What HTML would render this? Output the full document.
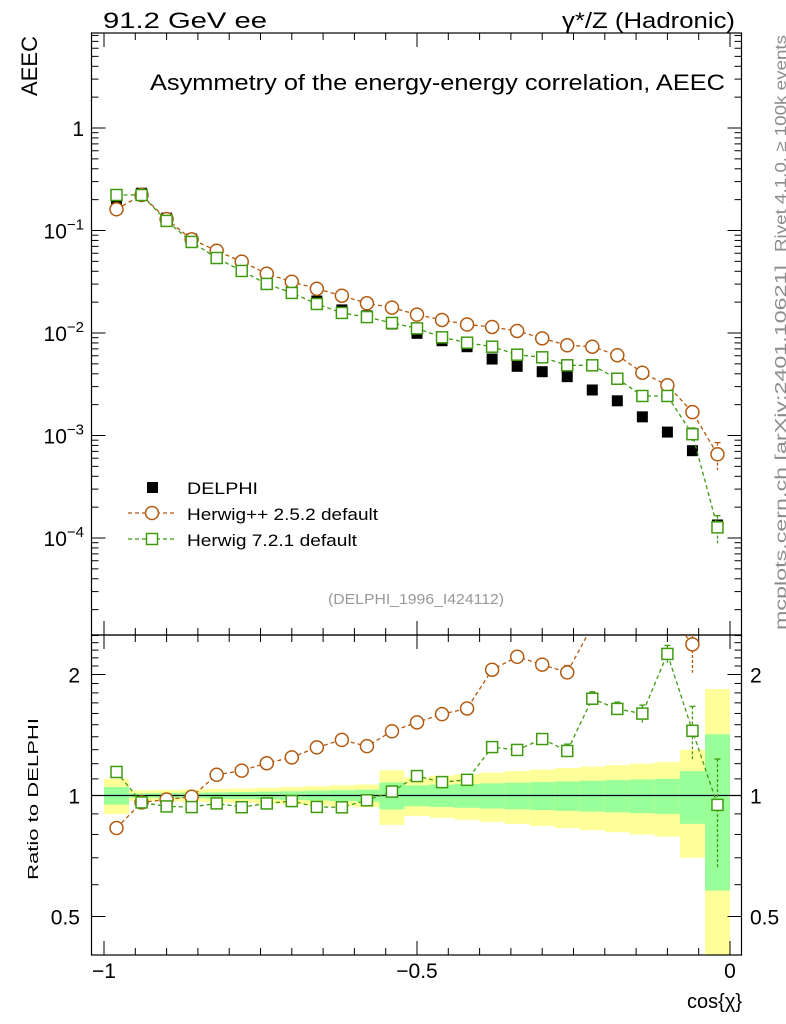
<!DOCTYPE html>
<html><head><meta charset="utf-8"><style>
html,body{margin:0;padding:0;background:#fff;}
svg{display:block;font-family:"Liberation Sans","DejaVu Sans",sans-serif;}
</style></head><body>
<svg id="chart" width="786" height="1024" viewBox="0 0 786 1024" xmlns="http://www.w3.org/2000/svg">
<g id="bands"></g>
<g id="axes"></g>
<g id="series"></g>
<text x="103" y="28" font-size="22" textLength="164" lengthAdjust="spacingAndGlyphs">91.2 GeV ee</text>
<text x="562" y="28" font-size="22" textLength="173" lengthAdjust="spacingAndGlyphs">γ*/Z (Hadronic)</text>
<text x="150" y="90" font-size="22" textLength="575" lengthAdjust="spacingAndGlyphs">Asymmetry of the energy-energy correlation, AEEC</text>
<text transform="translate(37,66) rotate(-90)" font-size="22" text-anchor="middle">AEEC</text>
<text transform="translate(38,880) rotate(-90)" font-size="15" textLength="162" lengthAdjust="spacingAndGlyphs">Ratio to DELPHI</text>
<text x="742" y="1008" font-size="20" text-anchor="end">cos{χ}</text>
<text transform="translate(786,252) rotate(-90)" font-size="16" fill="#8c8c8c" textLength="217" lengthAdjust="spacingAndGlyphs">Rivet 4.1.0, ≥ 100k events</text>
<text transform="translate(786,630) rotate(-90)" font-size="16" fill="#8c8c8c" textLength="365" lengthAdjust="spacingAndGlyphs">mcplots.cern.ch [arXiv:2401.10621]</text>
<text x="328" y="604" font-size="15" fill="#999" textLength="176" lengthAdjust="spacingAndGlyphs">(DELPHI_1996_I424112)</text>
<g>
 <rect x="147" y="482" width="11" height="11" fill="#000"/>
 <text x="187" y="494" font-size="17" textLength="71" lengthAdjust="spacingAndGlyphs">DELPHI</text>
 <line x1="128" y1="513" x2="176" y2="513" stroke="#b35a10" stroke-width="1.3" stroke-dasharray="4,3"/>
 <circle cx="152" cy="513" r="6.5" fill="#fff" stroke="#b35a10" stroke-width="1.5"/>
 <text x="187" y="520" font-size="17" textLength="191" lengthAdjust="spacingAndGlyphs">Herwig++ 2.5.2 default</text>
 <line x1="128" y1="539" x2="176" y2="539" stroke="#3f9a10" stroke-width="1.3" stroke-dasharray="4,3"/>
 <rect x="146.5" y="533.5" width="11" height="11" fill="#fff" stroke="#3f9a10" stroke-width="1.5"/>
 <text x="187" y="546" font-size="17" textLength="170" lengthAdjust="spacingAndGlyphs">Herwig 7.2.1 default</text>
</g>
</svg>
<script>
const binCenters=[-0.98,-0.94,-0.90,-0.86,-0.82,-0.78,-0.74,-0.70,-0.66,-0.62,-0.58,-0.54,-0.50,-0.46,-0.42,-0.38,-0.34,-0.30,-0.26,-0.22,-0.18,-0.14,-0.10,-0.06,-0.02];
const delphi=[0.194,0.231,0.132,0.0826,0.0564,0.0431,0.0315,0.0254,0.0205,0.0168,0.0147,0.01225,0.00993,0.00841,0.00735,0.00557,0.00473,0.00419,0.00375,0.00278,0.00218,0.00152,0.00108,0.000711,0.000134];
const herwigpp=[0.161,0.222,0.129,0.0820,0.0635,0.0497,0.0379,0.0316,0.0270,0.0231,0.0195,0.0177,0.0151,0.0134,0.0121,0.01145,0.01047,0.00887,0.00759,0.00735,0.00607,0.00410,0.00309,0.00169,0.000656];
const herwig7=[0.222,0.222,0.124,0.0773,0.0539,0.0403,0.0301,0.0246,0.0192,0.0157,0.0143,0.01253,0.0111,0.00908,0.00804,0.00735,0.00614,0.00579,0.00484,0.00484,0.00358,0.00243,0.00243,0.00103,0.000127];
const mcRelErr=[0.01,0.01,0.01,0.01,0.01,0.01,0.01,0.01,0.01,0.01,0.01,0.01,0.01,0.01,0.01,0.03,0.03,0.03,0.04,0.04,0.04,0.05,0.05,0.15,0.3];
const statErr=[0.05,0.012,0.014,0.016,0.018,0.02,0.022,0.025,0.028,0.031,0.034,0.077,0.06,0.064,0.068,0.072,0.076,0.08,0.084,0.088,0.092,0.096,0.1,0.15,0.42];
const totErr=[0.10,0.03,0.032,0.035,0.038,0.041,0.045,0.05,0.055,0.06,0.065,0.155,0.11,0.12,0.13,0.14,0.15,0.16,0.17,0.18,0.19,0.2,0.21,0.3,0.84];
const binWidth=0.04;
const xTicks=[-1,-0.5,0];
const xTickLabels=["−1","−0.5","0"];
const yDecades=[-4,-3,-2,-1,0];
const ratioTicks=[0.5,1,2];
const ratioTickLabels=["0.5","1","2"];

const NS="http://www.w3.org/2000/svg";
const L=91.5,R=741.5,T=33,MB=635,B=955;
const X=v=>104+(v+1)*626;
const Y=v=>128-102.5*Math.log10(v);
const RY=r=>795.5-121*Math.log2(r);
function mk(tag,attrs,parent){const e=document.createElementNS(NS,tag);for(const k in attrs)e.setAttribute(k,attrs[k]);parent.appendChild(e);return e;}
const axes=document.getElementById('axes'),bands=document.getElementById('bands'),series=document.getElementById('series');
const clamp=(y,a,b)=>Math.max(a,Math.min(b,y));

binCenters.forEach((c,i)=>{
  const x0=X(c-binWidth/2),x1=X(c+binWidth/2);
  const yt=clamp(RY(1+totErr[i]),MB,B),yb=totErr[i]>=1?B:clamp(RY(1-totErr[i]),MB,B);
  const b1=mk('rect',{x:x0,y:yt,width:x1-x0,height:yb-yt,fill:'#ffff99'},bands);
  
  
  const st=RY(1+statErr[i]),sb=RY(1-statErr[i]);
  const b2=mk('rect',{x:x0,y:st,width:x1-x0,height:sb-st,fill:'#99ff99'},bands);
  
  
});

mk('rect',{x:L,y:T,width:R-L,height:MB-T,fill:'none',stroke:'#000','stroke-width':1.2},axes);
mk('rect',{x:L,y:MB,width:R-L,height:B-MB,fill:'none',stroke:'#000','stroke-width':1.2},axes);
mk('line',{x1:L,x2:R,y1:RY(1),y2:RY(1),stroke:'#000','stroke-width':1.2},axes);

for(let k=-20;k<=0;k++){const v=k*0.05,x=X(v),maj=(k%10===0);const len=maj?14:7;
  [[T,T+len],[MB,MB-len],[MB,MB+len],[B,B-len]].forEach(p=>mk('line',{x1:x,x2:x,y1:p[0],y2:p[1],stroke:'#000','stroke-width':1},axes));}
xTicks.forEach((v,i)=>{const t=mk('text',{x:X(v),y:978,'font-size':21,'text-anchor':'middle'},axes);t.textContent=xTickLabels[i];
  
  });

for(let d=-5;d<=0;d++){for(let m=1;m<10;m++){const v=m*Math.pow(10,d),y=Y(v);if(y<T||y>MB)continue;const len=m===1?14:7;
  mk('line',{x1:L,x2:L+len,y1:y,y2:y,stroke:'#000'},axes);mk('line',{x1:R,x2:R-len,y1:y,y2:y,stroke:'#000'},axes);}}
yDecades.forEach((d,i)=>{const y=Y(Math.pow(10,d));
  const t=mk('text',{x:84,y:y+8,'font-size':21,'text-anchor':'end'},axes);
  
  
  if(d===0){t.textContent='1';}else{t.textContent='10';const s=mk('tspan',{dy:-9,'font-size':15},t);s.textContent='−'+(-d);}
});

[0.4,0.5,0.6,0.7,0.8,0.9,1,1.1,1.2,1.3,1.4,1.5,1.6,1.7,1.8,1.9,2,2.1,2.2,2.3,2.4,2.5].forEach(r=>{const y=RY(r);if(y<MB||y>B)return;const maj=ratioTicks.includes(r);const len=maj?14:7;
  mk('line',{x1:L,x2:L+len,y1:y,y2:y,stroke:'#000'},axes);mk('line',{x1:R,x2:R-len,y1:y,y2:y,stroke:'#000'},axes);});
ratioTicks.forEach((r,i)=>{const y=RY(r)+8;
  const a=mk('text',{x:80,y:y,'font-size':21,'text-anchor':'end'},axes);a.textContent=ratioTickLabels[i];
  
  
  const b=mk('text',{x:750,y:y,'font-size':21},axes);b.textContent=ratioTickLabels[i];
  
  });

const defs=mk('defs',{},series);
const c1=mk('clipPath',{id:'cm'},defs);mk('rect',{x:L,y:T,width:R-L,height:MB-T},c1);
const c2=mk('clipPath',{id:'cr'},defs);mk('rect',{x:L,y:MB,width:R-L,height:B-MB},c2);
const gm=mk('g',{'clip-path':'url(#cm)'},series),gr=mk('g',{'clip-path':'url(#cr)'},series);

function drawMC(vals,color,shape,name){
  const pts=binCenters.map((c,i)=>[X(c),Y(vals[i])]);
  const rp=binCenters.map((c,i)=>[X(c),RY(vals[i]/delphi[i])]);
  [[gm,pts,Y,v=>v],[gr,rp,RY,(v,i)=>v/delphi[i]]].forEach(([g,p,fy,tr])=>{
    const line=mk('polyline',{points:p.map(q=>q.join(',')).join(' '),fill:'none',stroke:color,'stroke-width':1.3,'stroke-dasharray':'4,3'},g);
    
    
    p.forEach((q,i)=>{
      const v=tr(vals[i],i),e=mcRelErr[i];
      if(e>0.02){const y1=fy(v*(1+e)),y2=fy(Math.max(v*(1-e),1e-9));
        mk('line',{x1:q[0],x2:q[0],y1:y1,y2:Math.min(y2,1100),stroke:color,'stroke-width':1.3,'stroke-dasharray':'3,2'},g);
        mk('line',{x1:q[0]-3,x2:q[0]+3,y1:y1,y2:y1,stroke:color,'stroke-width':1.3},g);}
      let m;
      if(shape==='c')m=mk('circle',{cx:q[0],cy:q[1],r:6.5,fill:'#fff',stroke:color,'stroke-width':1.5},g);
      else m=mk('rect',{x:q[0]-5.5,y:q[1]-5.5,width:11,height:11,fill:'#fff',stroke:color,'stroke-width':1.5},g);
      
      
    });
  });
}
binCenters.forEach((c,i)=>{const m=mk('rect',{x:X(c)-5.5,y:Y(delphi[i])-5.5,width:11,height:11,fill:'#000'},gm);
  
  });
drawMC(herwigpp,'#b35a10','c','herwigpp');
drawMC(herwig7,'#3f9a10','s','herwig7');
</script>
</body></html>
